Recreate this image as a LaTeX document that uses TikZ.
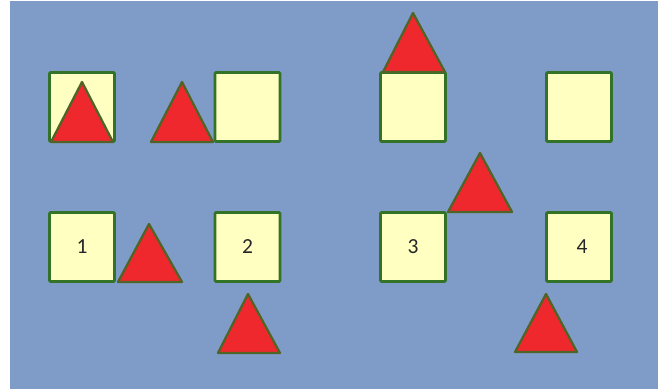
\documentclass[tikz,border=0pt]{standalone}
\usepackage{fontspec}
\setmainfont{Carlito}
\definecolor{bgblue}{RGB}{127,156,200}
\definecolor{boxfill}{RGB}{255,255,194}
\definecolor{edgegreen}{RGB}{50,115,40}
\definecolor{triedge}{RGB}{80,100,40}
\definecolor{trired}{RGB}{238,40,45}
\begin{document}
\begin{tikzpicture}[x=1pt,y=-1pt,
  sq/.style={draw=edgegreen,fill=boxfill,line width=2.6pt,rounded corners=1pt,
    minimum width=65pt,minimum height=69pt,inner sep=0pt,font=\fontsize{21.5}{23}\selectfont,text=black!85},
  tri/.style={draw=triedge,fill=trired,line width=2.3pt,line join=round}]
\useasboundingbox (0,0) rectangle (660,390);
\fill[white] (0,0) rectangle (660,390);
\fill[bgblue] (10,1) rectangle (658,389);
% top row squares
\node[sq] (s1) at (82,107) {};
\node[sq] (s2) at (247.5,107) {};
\node[sq] (s3) at (413,107) {};
\node[sq] (s4) at (579,107) {};
% bottom row squares
\node[sq] (b1) at (82,247) {1};
\node[sq] (b2) at (247.5,247) {2};
\node[sq] (b3) at (413,247) {3};
\node[sq] (b4) at (579,247) {\hspace{6pt}4};
% triangles
\draw[tri] (51,142) -- (82,82) -- (113,142) -- cycle;
\draw[tri] (151,142) -- (182,82) -- (213,142) -- cycle;
\draw[tri] (383,72) -- (413,13) -- (445,72) -- cycle;
\draw[tri] (118,282) -- (149,224) -- (182,282) -- cycle;
\draw[tri] (218,353) -- (248,294) -- (280,353) -- cycle;
\draw[tri] (448,212) -- (480,153) -- (512,212) -- cycle;
\draw[tri] (515,352) -- (546,294) -- (577,352) -- cycle;
\end{tikzpicture}
\end{document}
